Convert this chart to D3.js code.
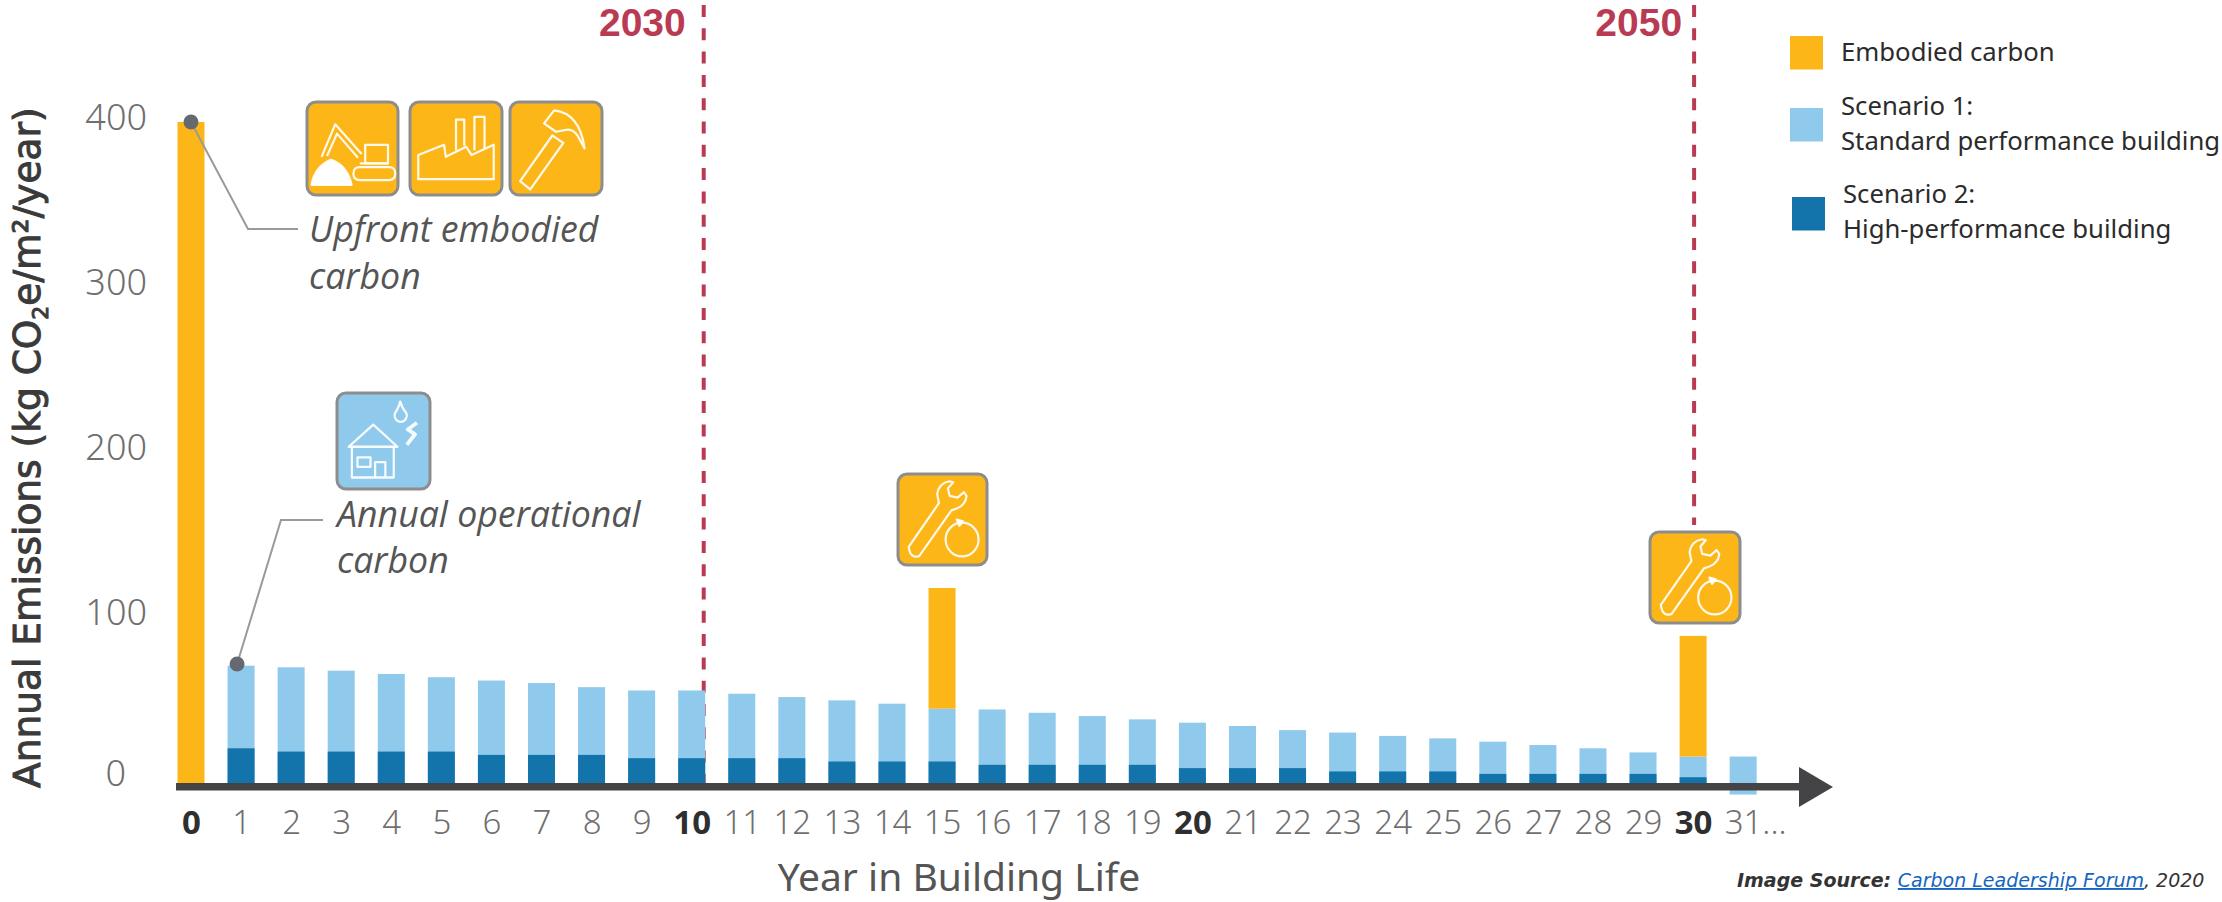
<!DOCTYPE html>
<html>
<head>
<meta charset="utf-8">
<title>Annual emissions over building life</title>
<script src="https://cdn.jsdelivr.net/npm/d3@7"></script>
<style>
  html, body { margin: 0; padding: 0; background: #fff; }
  svg { display: block; }
</style>
</head>
<body>
<svg id="chart" width="2222" height="902"></svg>
<script>
// Chart values, kg CO2e/m2/year by year of building life
const years = d3.range(0, 32);
const yearLabels = years.map(y => y === 31 ? "31..." : String(y));
const boldYears = [0, 10, 20, 30];
const scenario1 = [0, 71, 70, 68, 66, 64, 62, 60.5, 58, 56, 56, 54, 52, 50, 48, 45, 44.5, 42.5, 40.5, 38.5, 36.5, 34.5, 32, 30.5, 28.5, 27, 25, 23, 21, 18.5, 16, 16];
const scenario2 = [0, 21, 19, 19, 19, 19, 17, 17, 17, 15, 15, 15, 15, 13, 13, 13, 11, 11, 11, 11, 9, 9, 9, 7, 7, 7, 5.5, 5.5, 5.5, 5.5, 3.5, 0];
const embodied = years.map(y => y === 0 ? 400 : (y === 15 || y === 30) ? 73 : 0);
const yTicks = [0, 100, 200, 300, 400];
const milestones = [
  { year: 2030, atYear: 10.24, bottom: 783, labelGap: 18 },
  { year: 2050, atYear: 30.02, bottom: 525, labelGap: 12 }
];
const legendItems = [
  { color: "#fdb618", lines: ["Embodied carbon"] },
  { color: "#8fc9ec", lines: ["Scenario 1:", "Standard performance building"] },
  { color: "#1274ab", lines: ["Scenario 2:", "High-performance building"] }
];

const AMBER = "#fdb618", LIGHT = "#8fc9ec", DARK = "#1274ab", RED = "#b93b53", AXIS = "#444446";
const SANS = "'Noto Sans', 'Open Sans', sans-serif";

const svg = d3.select("#chart");
const x = d3.scaleLinear().domain([0, 31]).range([191, 191 + 31 * 50.07]);
const y = d3.scaleLinear().domain([0, 400]).range([783, 122]);
const barW = 27;

// Milestone dashed lines sit behind the bars
svg.append("g").selectAll("line").data(milestones).join("line")
  .attr("x1", d => x(d.atYear)).attr("x2", d => x(d.atYear))
  .attr("y1", 5).attr("y2", d => d.bottom)
  .attr("stroke", RED).attr("stroke-width", 4)
  .attr("stroke-dasharray", "12 11.3");

svg.append("g").selectAll("text").data(milestones).join("text")
  .attr("x", d => x(d.atYear) - d.labelGap).attr("y", 35.5)
  .attr("text-anchor", "end")
  .attr("font-family", "'Liberation Sans', sans-serif").attr("font-weight", 700).attr("font-size", 39)
  .attr("fill", RED)
  .text(d => d.year);

// Bars: light scenario, dark scenario over it, embodied carbon stacked on top
const bars = svg.append("g");
bars.selectAll("rect.s1").data(years.filter(i => scenario1[i] > 0)).join("rect")
  .attr("class", "s1")
  .attr("x", i => x(i) - barW / 2).attr("width", barW)
  .attr("y", i => y(scenario1[i]))
  // the final bar runs on past the axis line
  .attr("height", i => (i === 31 ? y(-7) : y(0)) - y(scenario1[i]))
  .attr("fill", LIGHT);
bars.selectAll("rect.s2").data(years.filter(i => scenario2[i] > 0)).join("rect")
  .attr("class", "s2")
  .attr("x", i => x(i) - barW / 2).attr("width", barW)
  .attr("y", i => y(scenario2[i]))
  .attr("height", i => y(0) - y(scenario2[i]))
  .attr("fill", DARK);
bars.selectAll("rect.emb").data(years.filter(i => embodied[i] > 0)).join("rect")
  .attr("class", "emb")
  .attr("x", i => x(i) - barW / 2).attr("width", barW)
  .attr("y", i => y(scenario1[i] + embodied[i]))
  .attr("height", i => y(0) - y(embodied[i]))
  .attr("fill", AMBER);

// Baseline with arrow head
svg.append("rect").attr("x", 176).attr("y", 783).attr("width", 1630).attr("height", 7.5).attr("fill", AXIS);
svg.append("path").attr("d", "M1799 767 L1833 787 L1799 807 Z").attr("fill", AXIS);

// Axes
const yAxis = svg.append("g").attr("transform", "translate(147,0)")
  .call(d3.axisLeft(y).tickValues(yTicks).tickSize(0).tickPadding(0));
yAxis.select(".domain").remove();
yAxis.selectAll("text")
  .attr("font-family", SANS).attr("font-size", 36).attr("font-weight", 300).attr("fill", "#6f6f6f")
  .attr("dy", d => d === 0 ? "0.06em" : "0.2em")
  .attr("x", d => d === 0 ? -21 : 0);

const xAxis = svg.append("g").attr("transform", "translate(0,810)")
  .call(d3.axisBottom(x).tickValues(years).tickSize(0).tickPadding(0).tickFormat(i => yearLabels[i]));
xAxis.select(".domain").remove();
xAxis.selectAll("text")
  .attr("font-family", SANS).attr("font-size", 33)
  .attr("dy", "0.72em")
  .attr("font-weight", d => boldYears.includes(d) ? 700 : 300)
  .attr("fill", d => boldYears.includes(d) ? "#2f2f2f" : "#6f6f6f")
  .attr("text-anchor", d => d === 31 ? "start" : "middle")
  .attr("x", d => d === 31 ? -19 : 0);

svg.append("text").attr("x", 959).attr("y", 891).attr("text-anchor", "middle")
  .attr("font-family", SANS).attr("font-size", 39).attr("fill", "#555")
  .text("Year in Building Life");

const yTitle = svg.append("text")
  .attr("transform", "translate(40,788) rotate(-90)")
  .attr("font-family", "'DejaVu Sans', sans-serif").attr("font-size", 37.5)
  .attr("fill", "#3a3a3a").attr("stroke", "#3a3a3a").attr("stroke-width", 1);
yTitle.append("tspan").text("Annual Emissions (kg CO");
yTitle.append("tspan").attr("font-size", 22).attr("dy", 8).text("2");
yTitle.append("tspan").attr("dy", -8).text("e/m\u00B2/year)");

// Callouts with leader lines
const leaders = [
  { at: [x(0), y(400)], via: [[248, 229], [298, 229]] },
  { at: [x(1) - 4, y(72)], via: [[281, 520], [323, 520]] }
];
const lineGen = d3.line();
svg.append("g").selectAll("path").data(leaders).join("path")
  .attr("d", d => lineGen([d.at, ...d.via]))
  .attr("fill", "none").attr("stroke", "#9a9a9a").attr("stroke-width", 2);
svg.append("g").selectAll("circle").data(leaders).join("circle")
  .attr("cx", d => d.at[0]).attr("cy", d => d.at[1]).attr("r", 7.5).attr("fill", "#666a70");

const notes = [
  { x: 309, y: 242, text: "Upfront embodied" },
  { x: 309, y: 289, text: "carbon" },
  { x: 337, y: 527, text: "Annual operational" },
  { x: 337, y: 573, text: "carbon" }
];
svg.append("g").selectAll("text").data(notes).join("text")
  .attr("x", d => d.x).attr("y", d => d.y)
  .attr("font-family", "'Open Sans', sans-serif").attr("font-style", "italic").attr("font-size", 35.7)
  .attr("fill", "#555")
  .text(d => d.text);

// Pictograms, outlined in white on a 100 x 100 grid
const wrench = [
  "M12 80 L46 32 L44 22 Q46 10 58 8 L62 9 L56 16 L58 24 L67 26 L74 20 L77 24 Q76 34 66 38 L60 40 L24 90 Q14 94 12 80 Z",
  { circle: [72, 72, 18.5] },
  { solid: "M66 50 L69 57 L73 52 Z" }
];
const icons = [
  { box: [307, 102, 91, 93], fill: AMBER, shapes: [
    { solid: "M5 89 Q8 70 26 62 Q44 68 49 89 Z" },
    "M16 59 L31 24 L60 56 M22 58 L33 34 L56 60",
    "M64 46 H89 V66 H64 Z",
    "M58 66 H89",
    "M51 77 Q51 70 58 70 H90 Q97 70 97 77 Q97 84 90 84 H58 Q51 84 51 77 Z"
  ]},
  { box: [410, 102, 92, 93], fill: AMBER, shapes: [
    "M9 83 V57 L37 46 L39 59 L61 48 L67 57 L91 46 V83 Z",
    "M50 52 V19 H59 V47",
    "M70 52 V16 H81 V50"
  ]},
  { box: [510, 102, 92, 93], fill: AMBER, shapes: [
    "M11 85 L22 94 L58 44 L46 36 Z",
    "M37 23 L48 9 Q76 12 81 50 L74 37 Q68 28 61 30 L50 32 Z"
  ]},
  { box: [337, 393, 93, 96], fill: LIGHT, shapes: [
    "M12.5 56 L39 33 L65 56 Z",
    "M16 56 V88 H61 V56",
    "M22 67 H36 V77 H22 Z",
    "M41 88 V72 H52 V88",
    "M68 9 Q66 16 63 20 A6.5 6.5 0 1 0 74 20 Q70 16 68 9 Z",
    { thick: "M86 31 L76 38 L84 43 L75 54" }
  ]},
  { box: [898, 474, 89, 91], fill: AMBER, shapes: wrench },
  { box: [1650, 532, 90, 91], fill: AMBER, shapes: wrench }
];
const iconG = svg.append("g").selectAll("g").data(icons).join("g")
  .attr("transform", d => `translate(${d.box[0]},${d.box[1]})`);
iconG.append("rect")
  .attr("width", d => d.box[2]).attr("height", d => d.box[3])
  .attr("rx", 9).attr("fill", d => d.fill)
  .attr("stroke", "#8d8d8d").attr("stroke-width", 3);
iconG.each(function (d) {
  const g = d3.select(this).append("g")
    .attr("transform", `scale(${d.box[2] / 100},${d.box[3] / 100})`)
    .attr("fill", "none").attr("stroke", "#fff").attr("stroke-width", 2.4).attr("stroke-linejoin", "round")
    .attr("stroke-opacity", 0.92);
  d.shapes.forEach(s => {
    if (s.solid) g.append("path").attr("d", s.solid).attr("fill", "#fff");
    else if (s.thick) g.append("path").attr("d", s.thick).attr("stroke-width", 4);
    else if (s.circle) g.append("circle").attr("cx", s.circle[0]).attr("cy", s.circle[1]).attr("r", s.circle[2]);
    else g.append("path").attr("d", s);
  });
});

// Legend
const legendPos = [
  { sx: 1790, sy: 36, tx: 1841, base: [61] },
  { sx: 1790, sy: 108, tx: 1841, base: [115, 150] },
  { sx: 1792, sy: 197, tx: 1843, base: [203, 238] }
];
const legend = svg.append("g").selectAll("g").data(legendItems).join("g");
legend.append("rect")
  .attr("x", (d, i) => legendPos[i].sx).attr("y", (d, i) => legendPos[i].sy)
  .attr("width", 33).attr("height", 33.5).attr("fill", d => d.color);
legend.each(function (d, i) {
  d3.select(this).selectAll("text").data(d.lines).join("text")
    .attr("x", legendPos[i].tx).attr("y", (t, k) => legendPos[i].base[k])
    .attr("font-family", SANS).attr("font-size", 25.7).attr("fill", "#2b2b2b")
    .text(t => t);
});

// Source line
const source = svg.append("text").attr("x", 1737).attr("y", 887)
  .attr("font-family", "'DejaVu Sans', sans-serif").attr("font-style", "italic").attr("font-size", 19).attr("fill", "#333");
source.append("tspan").attr("font-weight", 700).text("Image Source: ");
source.append("tspan").attr("fill", "#1565c0").attr("text-decoration", "underline").text("Carbon Leadership Forum");
source.append("tspan").text(", 2020");
</script>
</body>
</html>
